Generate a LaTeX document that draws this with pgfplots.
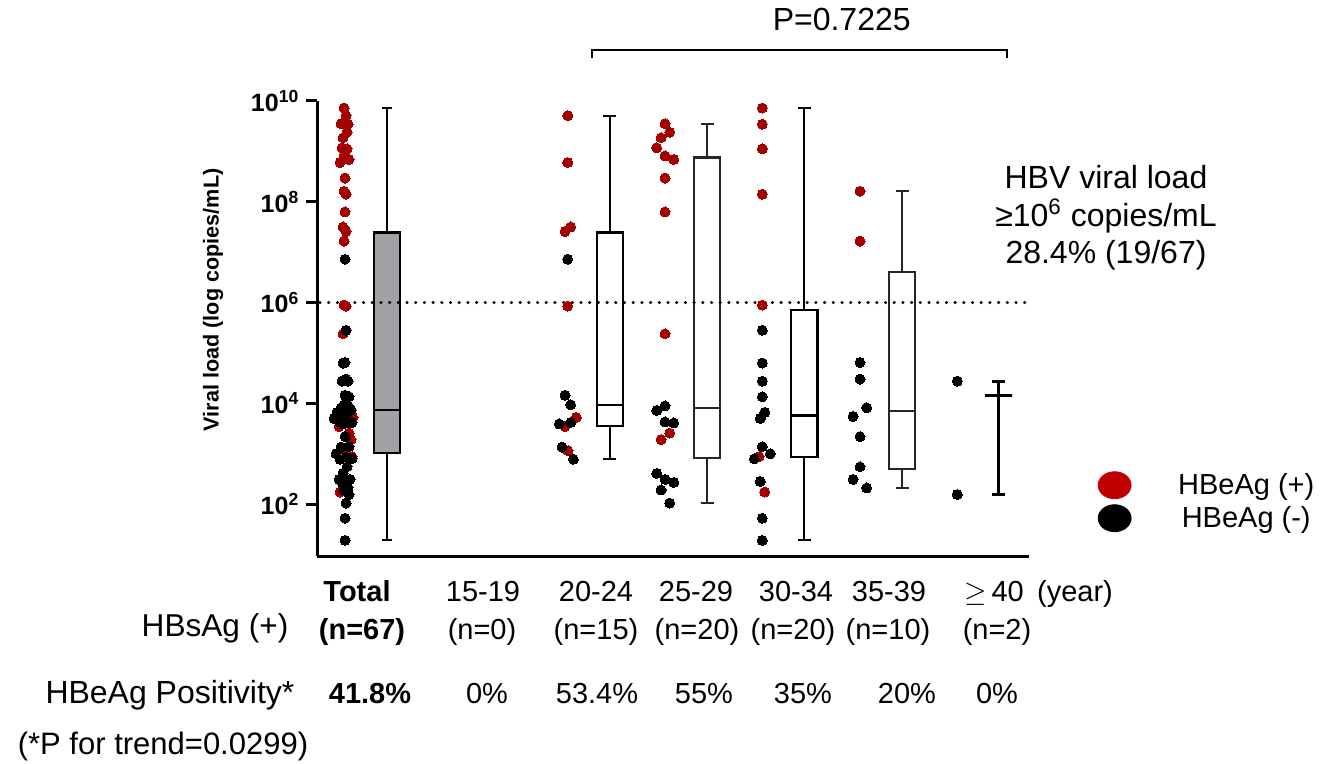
\documentclass[border=0pt]{standalone}
\usepackage{fontspec}
\setmainfont{Liberation Sans}
\usepackage{pgfplots}
\pgfplotsset{compat=1.18}
\usepgfplotslibrary{statistics}
\usepackage{pgfplotstable}
\definecolor{dotred}{RGB}{165,0,0}
\definecolor{legred}{RGB}{192,0,0}
\definecolor{boxgray}{RGB}{161,161,165}
\newcommand\fs[1]{\fontsize{#1}{#1}\selectfont}

% x = horizontal position (with jitter), v = log10(viral load)
\pgfplotstableread{
x v
0.44 9.86
0.46 9.71
0.41 9.55
0.48 9.54
0.47 9.38
0.43 9.27
0.42 9.07
0.47 9.05
0.44 8.91
0.49 8.84
0.40 8.78
0.45 8.47
0.44 8.21
0.46 8.15
0.45 7.80
0.43 7.50
0.46 7.41
0.44 7.22
0.44 5.95
0.46 5.93
0.43 5.38
0.53 3.72
0.39 3.54
0.49 3.41
0.51 3.28
0.46 3.06
0.52 2.94
0.40 2.24
2.677 9.71
2.677 8.78
2.707 7.50
2.65 7.41
2.677 5.93
2.763 3.72
2.65 3.54
2.68 3.06
3.65 9.55
3.697 9.38
3.61 9.27
3.567 9.07
3.65 8.91
3.737 8.84
3.65 8.47
3.65 7.80
3.65 5.38
3.697 3.41
3.61 3.28
4.623 9.86
4.623 9.54
4.623 9.05
4.623 8.15
4.623 5.95
4.59 2.94
4.647 2.24
5.60 8.21
5.60 7.22
}\redpts

\pgfplotstableread{
x v
0.45 6.86
0.46 5.45
0.45 4.81
0.43 4.80
0.46 4.48
0.42 4.44
0.48 4.44
0.45 4.16
0.49 4.13
0.44 3.97
0.48 3.95
0.41 3.91
0.51 3.86
0.37 3.82
0.45 3.74
0.34 3.70
0.40 3.63
0.52 3.62
0.47 3.61
0.43 3.59
0.45 3.34
0.49 3.14
0.41 3.13
0.36 3.00
0.46 2.93
0.52 2.90
0.40 2.89
0.47 2.74
0.43 2.61
0.39 2.49
0.50 2.49
0.45 2.45
0.42 2.43
0.48 2.32
0.44 2.28
0.49 2.19
0.46 2.02
0.45 1.72
0.45 1.28
2.677 6.86
2.65 4.16
2.707 3.97
2.707 3.62
2.593 3.59
2.62 3.13
2.733 2.89
3.65 3.95
3.567 3.86
3.65 3.63
3.737 3.61
3.567 2.61
3.65 2.49
3.737 2.43
3.61 2.28
3.697 2.02
4.623 5.45
4.623 4.80
4.623 4.44
4.623 4.13
4.647 3.82
4.603 3.70
4.623 3.14
4.703 3.00
4.543 2.90
4.603 2.45
4.623 1.72
4.623 1.28
5.60 4.81
5.60 4.48
5.667 3.91
5.53 3.74
5.60 3.34
5.60 2.74
5.53 2.49
5.667 2.32
6.573 4.44
6.573 2.19
}\blackpts

\begin{document}
\begin{tikzpicture}
\useasboundingbox (0,0) rectangle (666pt,-382pt);
\begin{axis}[
  at={(158.65pt,-278pt)}, anchor=south west,
  scale only axis, width=356pt, height=227.5pt,
  xmin=0.173, xmax=7.293, ymin=0.97, ymax=10,
  axis lines=left, axis line style={-, line width=1.5pt},
  xtick=\empty, ytick={2,4,6,8,10},
  yticklabels={10\textsuperscript{2},10\textsuperscript{4},10\textsuperscript{6},10\textsuperscript{8},10\textsuperscript{10}},
  yticklabel style={font=\fs{12.5}\bfseries},
  tick align=outside, major tick length=5.5pt,
  every tick/.style={black, line width=1.5pt},
  ylabel={Viral load (log copies/mL)},
  ylabel style={font=\fs{10.8}\bfseries, at={(rel axis cs:-0.1465,0.563)}, anchor=center},
  clip=false,
  boxplot/draw direction=y,
  legend style={draw=none, fill=none, at={(1.251,0.118)}, anchor=center, font=\fs{14.5}, row sep=0.5pt},
  legend cell align=center,
]
% boxplots
\addplot[forget plot, draw=black, line width=1.1pt, fill=boxgray,
  boxplot prepared={draw position=0.87, lower whisker=1.28, lower quartile=3.02, median=3.87, upper quartile=7.39, upper whisker=9.86, box extend=0.26, whisker extend=0.10}] coordinates {};
\addplot[forget plot, draw=black, line width=1.1pt, fill=white,
  boxplot prepared={draw position=3.097, lower whisker=2.90, lower quartile=3.55, median=3.97, upper quartile=7.39, upper whisker=9.71, box extend=0.26, whisker extend=0.13}] coordinates {};
\addplot[forget plot, draw=black!85, line width=1.1pt, fill=white,
  boxplot prepared={draw position=4.07, lower whisker=2.02, lower quartile=2.91, median=3.91, upper quartile=8.88, upper whisker=9.55, box extend=0.265, whisker extend=0.13}] coordinates {};
\addplot[forget plot, draw=black, line width=1.1pt, fill=white,
  boxplot prepared={draw position=5.043, lower whisker=1.28, lower quartile=2.93, median=3.76, upper quartile=5.85, upper whisker=9.86, box extend=0.265, whisker extend=0.13}] coordinates {};
\addplot[forget plot, draw=black!85, line width=1.1pt, fill=white,
  boxplot prepared={draw position=6.02, lower whisker=2.32, lower quartile=2.70, median=3.84, upper quartile=6.61, upper whisker=8.21, box extend=0.265, whisker extend=0.13}] coordinates {};
\addplot[forget plot, draw=black, line width=1.4pt, fill=white,
  boxplot prepared={draw position=6.987, lower whisker=2.19, lower quartile=4.15, median=4.15, upper quartile=4.15, upper whisker=4.44, box extend=0.27, whisker extend=0.13}] coordinates {};
% threshold 10^6
\addplot[forget plot, line width=1.7pt, dash pattern=on 0pt off 4.35pt, line cap=round] coordinates {(0.20,6) (7.28,6)};
% dots
\addplot[dotred, only marks, mark=*, mark size=2.5pt, mark options={draw=dotred, line width=0pt, fill=dotred},
  legend image code/.code={\fill[legred] (8.25pt,0.3pt) ellipse [x radius=8.25pt, y radius=6.75pt]; \path[draw=none] (0,0) -- (38pt,0);}]
  table[x=x, y=v] {\redpts};
\addlegendentry{HBeAg (+)}
\addplot[black, only marks, mark=*, mark size=2.5pt, mark options={draw=black, line width=0pt, fill=black},
  legend image code/.code={\fill[black] (8.25pt,0.3pt) ellipse [x radius=8.25pt, y radius=6.75pt]; \path[draw=none] (0,0) -- (38pt,0);}]
  table[x=x, y=v] {\blackpts};
\addlegendentry{HBeAg (-)}
\end{axis}

\begin{scope}[x=0.5pt, y=-0.5pt]
% P bracket
\draw[line width=0.8pt] (591.7,58) -- (591.7,50) -- (1006.7,50) -- (1006.7,58);
\node[anchor=base, font=\fs{16}] at (841.7,31) {P=0.7225};
% HBV annotation
\node[anchor=base, font=\fs{16}] at (1106,189) {HBV viral load};
\node[anchor=base, font=\fs{16}] at (1106,227) {≥10\textsuperscript{6} copies/mL};
\node[anchor=base, font=\fs{16}] at (1106,264) {28.4\% (19/67)};
% row 1
\node[anchor=base, font=\fs{14.5}\bfseries] at (357,601) {Total};
\node[anchor=base, font=\fs{14.5}] at (483,601) {15-19};
\node[anchor=base, font=\fs{14.5}] at (596,601) {20-24};
\node[anchor=base, font=\fs{14.5}] at (696,601) {25-29};
\node[anchor=base, font=\fs{14.5}] at (796,601) {30-34};
\node[anchor=base, font=\fs{14.5}] at (889,601) {35-39};
\node[anchor=base, font=\fs{14.5}] at (994,601) {$\geq$\,40};
\node[anchor=base, font=\fs{14.5}] at (1075,601) {(year)};
% row 2
\node[anchor=base, font=\fs{15.8}] at (215,636) {HBsAg (+)};
\node[anchor=base, font=\fs{14.5}\bfseries] at (362,639) {(n=67)};
\node[anchor=base, font=\fs{14.5}] at (482,639) {(n=0)};
\node[anchor=base, font=\fs{14.5}] at (596,639) {(n=15)};
\node[anchor=base, font=\fs{14.5}] at (697,639) {(n=20)};
\node[anchor=base, font=\fs{14.5}] at (793,639) {(n=20)};
\node[anchor=base, font=\fs{14.5}] at (888,639) {(n=10)};
\node[anchor=base, font=\fs{14.5}] at (997,639) {(n=2)};
% row 3
\node[anchor=base, font=\fs{16}] at (170,703) {HBeAg Positivity*};
\node[anchor=base, font=\fs{14.5}\bfseries] at (370,703) {41.8\%};
\node[anchor=base, font=\fs{14.5}] at (487,703) {0\%};
\node[anchor=base, font=\fs{14.5}] at (597,703) {53.4\%};
\node[anchor=base, font=\fs{14.5}] at (704,703) {55\%};
\node[anchor=base, font=\fs{14.5}] at (803,703) {35\%};
\node[anchor=base, font=\fs{14.5}] at (907,703) {20\%};
\node[anchor=base, font=\fs{14.5}] at (997,703) {0\%};
% row 4
\node[anchor=base, font=\fs{15.5}] at (163,754) {(*P for trend=0.0299)};
\end{scope}
\end{tikzpicture}
\end{document}
